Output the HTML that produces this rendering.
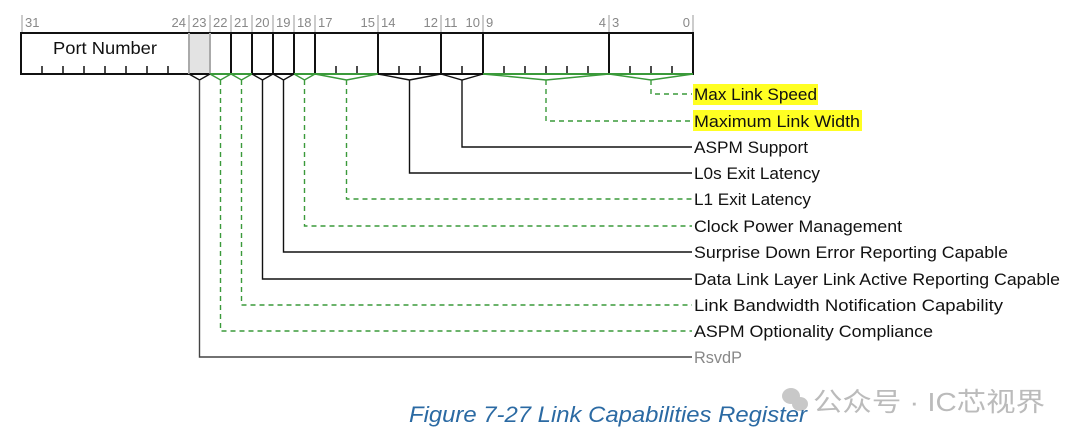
<!DOCTYPE html>
<html><head><meta charset="utf-8"><style>
html,body{margin:0;padding:0;background:#fff;}
svg{display:block;}
text{font-family:"Liberation Sans","Noto Sans CJK SC",sans-serif;}
</style></head><body>
<svg width="1080" height="444" viewBox="0 0 1080 444" xmlns="http://www.w3.org/2000/svg">
<rect x="189" y="33" width="21" height="41" fill="#e3e3e3"/>
<g stroke="#999" stroke-width="1">
<line x1="22" y1="15" x2="22" y2="33"/><line x1="189" y1="15" x2="189" y2="33"/>
<line x1="210" y1="15" x2="210" y2="33"/><line x1="231" y1="15" x2="231" y2="33"/>
<line x1="252" y1="15" x2="252" y2="33"/><line x1="273" y1="15" x2="273" y2="33"/>
<line x1="294" y1="15" x2="294" y2="33"/><line x1="315" y1="15" x2="315" y2="33"/>
<line x1="378" y1="15" x2="378" y2="33"/><line x1="441" y1="15" x2="441" y2="33"/>
<line x1="483" y1="15" x2="483" y2="33"/><line x1="609" y1="15" x2="609" y2="33"/>
<line x1="693" y1="15" x2="693" y2="33"/>
</g>
<g font-size="13" fill="#888">
<text x="25" y="27">31</text><text x="186" y="27" text-anchor="end">24</text>
<text x="192" y="27">23</text><text x="213" y="27">22</text><text x="234" y="27">21</text>
<text x="255" y="27">20</text><text x="276" y="27">19</text><text x="297" y="27">18</text>
<text x="318" y="27">17</text><text x="375" y="27" text-anchor="end">15</text>
<text x="381" y="27">14</text><text x="438" y="27" text-anchor="end">12</text>
<text x="444" y="27">11</text><text x="480" y="27" text-anchor="end">10</text>
<text x="486" y="27">9</text><text x="606" y="27" text-anchor="end">4</text>
<text x="612" y="27">3</text><text x="690" y="27" text-anchor="end">0</text>
</g>
<g stroke="#111" stroke-width="2" fill="none">
<rect x="21" y="33" width="672" height="41"/>
<line x1="231" y1="33" x2="231" y2="74"/>
<line x1="252" y1="33" x2="252" y2="74"/><line x1="273" y1="33" x2="273" y2="74"/>
<line x1="294" y1="33" x2="294" y2="74"/><line x1="315" y1="33" x2="315" y2="74"/>
<line x1="378" y1="33" x2="378" y2="74"/><line x1="441" y1="33" x2="441" y2="74"/>
<line x1="483" y1="33" x2="483" y2="74"/><line x1="609" y1="33" x2="609" y2="74"/>
</g>
<g stroke="#aaa" stroke-width="2"><line x1="189" y1="33" x2="189" y2="74"/><line x1="210" y1="33" x2="210" y2="74"/></g>
<g stroke="#111" stroke-width="1.5">
<line x1="42" y1="66" x2="42" y2="74"/><line x1="63" y1="66" x2="63" y2="74"/><line x1="84" y1="66" x2="84" y2="74"/>
<line x1="105" y1="66" x2="105" y2="74"/><line x1="126" y1="66" x2="126" y2="74"/><line x1="147" y1="66" x2="147" y2="74"/>
<line x1="168" y1="66" x2="168" y2="74"/>
<line x1="336" y1="66" x2="336" y2="74"/><line x1="357" y1="66" x2="357" y2="74"/>
<line x1="399" y1="66" x2="399" y2="74"/><line x1="420" y1="66" x2="420" y2="74"/>
<line x1="462" y1="66" x2="462" y2="74"/>
<line x1="504" y1="66" x2="504" y2="74"/><line x1="525" y1="66" x2="525" y2="74"/><line x1="546" y1="66" x2="546" y2="74"/>
<line x1="567" y1="66" x2="567" y2="74"/><line x1="588" y1="66" x2="588" y2="74"/>
<line x1="630" y1="66" x2="630" y2="74"/><line x1="651" y1="66" x2="651" y2="74"/><line x1="672" y1="66" x2="672" y2="74"/>
</g>
<text x="53" y="54" font-size="17.5" fill="#111" textLength="104" lengthAdjust="spacingAndGlyphs">Port Number</text>
<g stroke="#3a9a3a" stroke-width="2"><line x1="210" y1="74" x2="252" y2="74"/><line x1="294" y1="74" x2="378" y2="74"/><line x1="483" y1="74" x2="693" y2="74"/></g>
<g fill="none" stroke-width="1.4">
<g stroke="#3a9a3a">
<polyline points="609,74 651,80 693,74"/><polyline points="483,74 546,80 609,74"/>
<polyline points="315,74 346.5,80 378,74"/><polyline points="294,74 304.5,80 315,74"/>
<polyline points="231,74 241.5,80 252,74"/><polyline points="210,74 220.5,80 231,74"/>
</g>
<g stroke="#111">
<polyline points="441,74 462,80 483,74"/><polyline points="378,74 409.5,80 441,74"/>
<polyline points="273,74 283.5,80 294,74"/><polyline points="252,74 262.5,80 273,74"/>
<polyline points="189,74 199.5,80 210,74"/>
<polyline points="462,80 462,147 692,147"/>
<polyline points="409.5,80 409.5,173 692,173"/>
<polyline points="283.5,80 283.5,252 692,252"/>
<polyline points="262.5,80 262.5,279 692,279"/>
</g>
<polyline stroke="#444" points="199.5,80 199.5,357 692,357"/>
<g stroke="#3a9a3a" stroke-dasharray="5,4">
<polyline points="651,80 651,94 692,94"/>
<polyline points="546,80 546,121 692,121"/>
<polyline points="346.5,80 346.5,199 692,199"/>
<polyline points="304.5,80 304.5,226 692,226"/>
<polyline points="241.5,80 241.5,305 692,305"/>
<polyline points="220.5,80 220.5,331 692,331"/>
</g>
</g>
<rect x="693" y="84" width="125" height="21" fill="#ffff22"/>
<rect x="693" y="110" width="169" height="21" fill="#ffff22"/>
<g font-size="17" fill="#111" lengthAdjust="spacingAndGlyphs">
<text x="694" y="100" textLength="123" lengthAdjust="spacingAndGlyphs">Max Link Speed</text>
<text x="694" y="127" textLength="166" lengthAdjust="spacingAndGlyphs">Maximum Link Width</text>
<text x="694" y="153" textLength="114" lengthAdjust="spacingAndGlyphs">ASPM Support</text>
<text x="694" y="179" textLength="126" lengthAdjust="spacingAndGlyphs">L0s Exit Latency</text>
<text x="694" y="205" textLength="117" lengthAdjust="spacingAndGlyphs">L1 Exit Latency</text>
<text x="694" y="232" textLength="208" lengthAdjust="spacingAndGlyphs">Clock Power Management</text>
<text x="694" y="258" textLength="314" lengthAdjust="spacingAndGlyphs">Surprise Down Error Reporting Capable</text>
<text x="694" y="285" textLength="366" lengthAdjust="spacingAndGlyphs">Data Link Layer Link Active Reporting Capable</text>
<text x="694" y="311" textLength="309" lengthAdjust="spacingAndGlyphs">Link Bandwidth Notification Capability</text>
<text x="694" y="337" textLength="239" lengthAdjust="spacingAndGlyphs">ASPM Optionality Compliance</text>
<text x="694" y="363" fill="#888" textLength="48" lengthAdjust="spacingAndGlyphs">RsvdP</text>
</g>
<g fill="#c8c8c8">
<ellipse cx="791" cy="396" rx="9" ry="8"/><ellipse cx="800" cy="404" rx="8" ry="7"/>
</g>
<text x="813" y="411" font-size="26" fill="#bbb" font-family="'Noto Sans CJK SC',sans-serif" textLength="232" lengthAdjust="spacingAndGlyphs">公众号 · IC芯视界</text>
<text x="409" y="422" font-size="22" font-style="italic" fill="#2b6aa3" textLength="398" lengthAdjust="spacingAndGlyphs">Figure  7-27  Link Capabilities Register</text>
</svg>
</body></html>
